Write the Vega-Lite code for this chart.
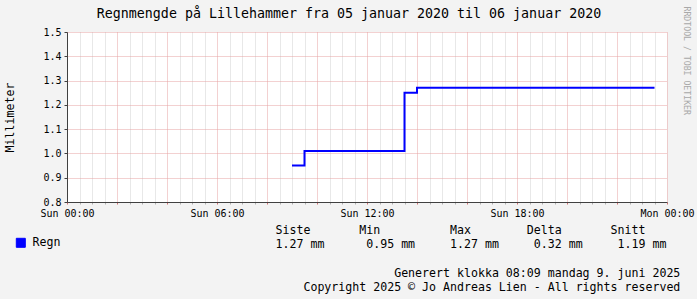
{
  "$schema": "https://vega.github.io/schema/vega-lite/v6.json",
  "width": 600,
  "height": 170,
  "autosize": {"type": "none"},
  "padding": {"left": 67, "top": 32, "right": 30, "bottom": 97},
  "background": "#f3f3f3",
  "title": {"text": "Regnmengde på Lillehammer fra 05 januar 2020 til 06 januar 2020", "fontSize": 13.3, "fontWeight": "normal", "font": "DejaVu Sans Mono", "color": "#000000", "frame": "group", "anchor": "middle", "dx": -18, "offset": -14},
  "config": {
    "font": "DejaVu Sans Mono",
    "view": {"fill": "white", "stroke": null},
    "axis": {"labelFont": "DejaVu Sans Mono", "titleFont": "DejaVu Sans Mono", "labelColor": "#000000", "titleColor": "#000000", "titleFontWeight": "normal"}
  },
  "data": {
    "values": [
      {"tid": "2020-01-05T09:00:00Z", "mm": 0.95, "serie": "Regn"},
      {"tid": "2020-01-05T09:30:00Z", "mm": 1.01, "serie": "Regn"},
      {"tid": "2020-01-05T10:00:00Z", "mm": 1.01, "serie": "Regn"},
      {"tid": "2020-01-05T10:30:00Z", "mm": 1.01, "serie": "Regn"},
      {"tid": "2020-01-05T11:00:00Z", "mm": 1.01, "serie": "Regn"},
      {"tid": "2020-01-05T11:30:00Z", "mm": 1.01, "serie": "Regn"},
      {"tid": "2020-01-05T12:00:00Z", "mm": 1.01, "serie": "Regn"},
      {"tid": "2020-01-05T12:30:00Z", "mm": 1.01, "serie": "Regn"},
      {"tid": "2020-01-05T13:00:00Z", "mm": 1.01, "serie": "Regn"},
      {"tid": "2020-01-05T13:30:00Z", "mm": 1.25, "serie": "Regn"},
      {"tid": "2020-01-05T14:00:00Z", "mm": 1.27, "serie": "Regn"},
      {"tid": "2020-01-05T14:30:00Z", "mm": 1.27, "serie": "Regn"},
      {"tid": "2020-01-05T15:00:00Z", "mm": 1.27, "serie": "Regn"},
      {"tid": "2020-01-05T15:30:00Z", "mm": 1.27, "serie": "Regn"},
      {"tid": "2020-01-05T16:00:00Z", "mm": 1.27, "serie": "Regn"},
      {"tid": "2020-01-05T16:30:00Z", "mm": 1.27, "serie": "Regn"},
      {"tid": "2020-01-05T17:00:00Z", "mm": 1.27, "serie": "Regn"},
      {"tid": "2020-01-05T17:30:00Z", "mm": 1.27, "serie": "Regn"},
      {"tid": "2020-01-05T18:00:00Z", "mm": 1.27, "serie": "Regn"},
      {"tid": "2020-01-05T18:30:00Z", "mm": 1.27, "serie": "Regn"},
      {"tid": "2020-01-05T19:00:00Z", "mm": 1.27, "serie": "Regn"},
      {"tid": "2020-01-05T19:30:00Z", "mm": 1.27, "serie": "Regn"},
      {"tid": "2020-01-05T20:00:00Z", "mm": 1.27, "serie": "Regn"},
      {"tid": "2020-01-05T20:30:00Z", "mm": 1.27, "serie": "Regn"},
      {"tid": "2020-01-05T21:00:00Z", "mm": 1.27, "serie": "Regn"},
      {"tid": "2020-01-05T21:30:00Z", "mm": 1.27, "serie": "Regn"},
      {"tid": "2020-01-05T22:00:00Z", "mm": 1.27, "serie": "Regn"},
      {"tid": "2020-01-05T22:30:00Z", "mm": 1.27, "serie": "Regn"},
      {"tid": "2020-01-05T23:00:00Z", "mm": 1.27, "serie": "Regn"},
      {"tid": "2020-01-05T23:30:00Z", "mm": 1.27, "serie": "Regn"}
    ]
  },
  "layer": [
    {
      "mark": {"type": "line", "interpolate": "step-after", "strokeWidth": 2},
      "encoding": {
        "x": {
          "field": "tid",
          "type": "temporal",
          "scale": {"type": "utc", "nice": false, "domain": [{"year": 2020, "month": 1, "date": 5, "hours": 0, "utc": true}, {"year": 2020, "month": 1, "date": 6, "hours": 0, "utc": true}]},
          "axis": {
            "orient": "bottom",
            "tickCount": 48,
            "grid": true,
            "gridColor": {"condition": {"test": "utcminutes(datum.value) == 0 && utchours(datum.value) % 2 == 0", "value": "#e6a3a3"}, "value": "#d0d0d0"},
            "gridDash": [1, 1],
            "gridOpacity": 1,
            "ticks": true,
            "tickSize": 2,
            "tickColor": {"condition": {"test": "utcminutes(datum.value) == 0 && utchours(datum.value) % 2 == 0", "value": "#d07070"}, "value": "#b0b0b0"},
            "domain": true,
            "domainColor": "#404040",
            "labelExpr": "utcminutes(datum.value) == 0 && utchours(datum.value) % 6 == 0 ? utcFormat(datum.value, '%a %H:%M') : ''",
            "labelOverlap": false,
            "labelFlush": false,
            "labelFontSize": 10,
            "labelPadding": 4,
            "labelAngle": 0,
            "title": [
              "Siste\u00a0\u00a0\u00a0\u00a0\u00a0\u00a0\u00a0Min\u00a0\u00a0\u00a0\u00a0\u00a0\u00a0\u00a0\u00a0\u00a0\u00a0Max\u00a0\u00a0\u00a0\u00a0\u00a0\u00a0\u00a0\u00a0Delta\u00a0\u00a0\u00a0\u00a0\u00a0\u00a0\u00a0Snitt",
              "1.27\u00a0mm\u00a0\u00a0\u00a0\u00a0\u00a0\u00a00.95\u00a0mm\u00a0\u00a0\u00a0\u00a0\u00a01.27\u00a0mm\u00a0\u00a0\u00a0\u00a0\u00a00.32\u00a0mm\u00a0\u00a0\u00a0\u00a0\u00a01.19\u00a0mm",
              "\u200b\u00a0",
              "\u200b\u00a0\u00a0\u00a0\u00a0\u00a0\u00a0\u00a0\u00a0\u00a0\u00a0\u00a0\u00a0\u00a0\u00a0\u00a0\u00a0\u00a0Generert klokka 08:09 mandag 9. juni 2025",
              "\u200b\u00a0\u00a0\u00a0\u00a0Copyright 2025 © Jo Andreas Lien - All rights reserved"
            ],
            "titleFontSize": 11.6,
            "titleLineHeight": 14.3,
            "titleAnchor": "start",
            "titleAlign": "left",
            "titleBaseline": "alphabetic",
            "titleX": 208,
            "titleY": 31.5
          }
        },
        "y": {
          "field": "mm",
          "type": "quantitative",
          "scale": {"domain": [0.8, 1.5], "nice": false, "zero": false},
          "axis": {
            "orient": "left",
            "values": [0.8, 0.9, 1.0, 1.1, 1.2, 1.3, 1.4, 1.5],
            "format": ".1f",
            "grid": true,
            "gridColor": "#e6a3a3",
            "gridDash": [1, 1],
            "gridOpacity": 1,
            "tickSize": 3,
            "tickColor": "#404040",
            "domainColor": "#404040",
            "labelFontSize": 10,
            "labelPadding": 3,
            "title": "Millimeter",
            "titleFontSize": 11.6,
            "titleAngle": 270,
            "titleAlign": "center",
            "titleBaseline": "middle",
            "titleX": -57,
            "titleY": 85
          }
        },
        "color": {
          "field": "serie",
          "type": "nominal",
          "scale": {"domain": ["Regn"], "range": ["#0000ff"]},
          "legend": {
            "orient": "none",
            "legendX": -52,
            "legendY": 205,
            "title": null,
            "padding": 0,
            "symbolType": "square",
            "symbolSize": 81,
            "symbolFillColor": "#0000ff",
            "symbolStrokeColor": "#000000",
            "symbolStrokeWidth": 1,
            "labelFont": "DejaVu Sans Mono",
            "labelFontSize": 11.6,
            "labelColor": "#000000",
            "labelOffset": 6
          }
        }
      }
    },
    {
      "mark": {"type": "line", "interpolate": "step-after", "opacity": 0},
      "encoding": {
        "x": {"field": "tid", "type": "temporal"},
        "y": {
          "field": "mm",
          "type": "quantitative",
          "axis": {
            "orient": "right",
            "grid": false,
            "ticks": false,
            "labels": false,
            "domain": false,
            "title": "RRDTOOL / TOBI OETIKER",
            "titleFontSize": 8.2,
            "titleColor": "#a8a8a8",
            "titleAngle": 90,
            "titleAlign": "left",
            "titleBaseline": "middle",
            "titleX": 18.7,
            "titleY": -26
          }
        }
      }
    }
  ],
  "resolve": {"axis": {"y": "independent"}}
}
